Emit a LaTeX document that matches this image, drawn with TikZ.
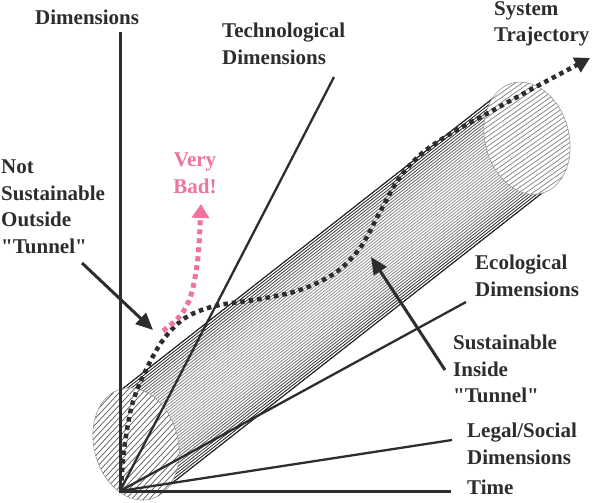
\documentclass[tikz,border=0pt]{standalone}
\usepackage{fontspec}
\setmainfont{Liberation Serif}
\usetikzlibrary{arrows.meta}
\definecolor{ink}{RGB}{45,45,45}
\definecolor{badpink}{RGB}{238,116,158}
\newcommand\qd{\textquotedbl}
\begin{document}
\begin{tikzpicture}[x=1pt,y=-1pt,
  lbl/.style={font=\fontsize{21}{26.5}\selectfont\bfseries, text=ink, inner sep=0pt, align=left},
  axisline/.style={ink, line width=3pt},
  dimline/.style={ink, line width=2.3pt},
  traj/.style={ink, line width=4.5pt, dash pattern=on 4.5pt off 4pt, -{Triangle[length=15pt,width=16pt]}},
  pinktraj/.style={badpink, line width=5pt, dash pattern=on 5pt off 4pt, -{Triangle[length=14pt,width=17pt]}},
  lblarrow/.style={ink, line width=3pt, -{Triangle[length=17pt,width=15pt]}},
  bodyline/.style={line width=0.8pt},
  caprim/.style={black!45, line width=0.5pt}]
\useasboundingbox (0,0) rectangle (594,503);

% ---- tube body ----
\begin{scope}[shift={(137,444)}, rotate=38.1]
  \begin{scope}
    \clip (10,-52.5) -- (505.7,-52.5) -- (485.7,52.5) -- (-10,52.5) -- cycle;
    \foreach \i in {0,...,44}{
      \pgfmathsetmacro\v{-52.3+\i*104.6/44}
      \pgfmathsetmacro\g{42+56*(abs(\v)/52.5)^3}
      \draw[bodyline, black!\g] (-30,\v) -- (530,\v);
    }
  \end{scope}
  \draw[black!85, line width=1pt] (10,-52.5) -- (505.7,-52.5);
  \draw[black!85, line width=1pt] (-10,52.5) -- (485.7,52.5);
\end{scope}

% ---- front cap ----
\begin{scope}[shift={(136,444)}]
  \fill[white, rotate=15] (0,0) ellipse [x radius=42, y radius=57];
  \begin{scope}
    \clip[rotate=15] (0,0) ellipse [x radius=42, y radius=57];
    \foreach \k in {-17,...,17}
      \draw[black!65, line width=0.7pt, rotate=47] (-80,\k*4.3) -- (80,\k*4.3);
  \end{scope}
  \draw[caprim, rotate=15] (0,0) ellipse [x radius=42, y radius=57];
\end{scope}

% ---- far cap ----
\begin{scope}[shift={(527,138.2)}]
  \fill[white, rotate=15] (0,0) ellipse [x radius=42, y radius=57];
  \begin{scope}
    \clip[rotate=15] (0,0) ellipse [x radius=42, y radius=57];
    \foreach \k in {-19,...,19}
      \draw[black!50, line width=0.7pt, rotate=35] (-80,\k*4) -- (80,\k*4);
  \end{scope}
  \draw[caprim, rotate=15] (0,0) ellipse [x radius=42, y radius=57];
\end{scope}

% ---- axes ----
\coordinate (O) at (120,491);
\coordinate (vtop) at (120,32);
\coordinate (timeend) at (451,491);
\coordinate (legalend) at (452,440);
\coordinate (ecoend) at (466,302);
\coordinate (techend) at (334,77);
\draw[axisline] (vtop) -- (O) -- (timeend);
\draw[dimline] (O) -- (legalend);
\draw[dimline] (O) -- (ecoend);
\draw[dimline] (O) -- (techend);

% ---- trajectories ----
\draw[traj] plot[smooth, tension=0.55] coordinates {(121,489) (124,450) (132,405) (145,372) (163,340) (185,318) (215,306) (260,299) (300,290) (335,273) (360,248) (380,212) (398,180) (420,155) (450,134) (490,112) (530,90) (590,58)};
\draw[pinktraj] plot[smooth, tension=0.6] coordinates {(163,331) (180,316) (190,298) (196,272) (199,245) (201,204)};

% ---- labels ----
\node[lbl, anchor=north west] (dimlbl) at (35,10) {Dimensions};
\node[lbl, anchor=north west] (techlbl) at (222,23) {Technological\\Dimensions};
\node[lbl, anchor=north west] (syslbl) at (494,1) {System\\Trajectory};
\node[lbl, anchor=north west] (notlbl) at (1,160) {Not\\Sustainable\\Outside\\\qd Tunnel\qd};
\node[lbl, anchor=north, align=center, text=badpink] (badlbl) at (195,153) {Very\\Bad!};
\node[lbl, anchor=north west] (ecolbl) at (475,255) {Ecological\\Dimensions};
\node[lbl, anchor=north west] (inlbl) at (453,335) {Sustainable\\Inside\\\qd Tunnel\qd};
\node[lbl, anchor=north west] (legallbl) at (467,423) {Legal/Social\\Dimensions};
\node[lbl, anchor=north west] (timelbl) at (467,480) {Time};

% ---- label arrows ----
\coordinate (notTail) at (82,263);
\coordinate (notTip) at (153,330);
\coordinate (inTail) at (445,370);
\coordinate (inTip) at (371,257);
\draw[lblarrow] (notTail) -- (notTip);
\draw[lblarrow] (inTail) -- (inTip);
\end{tikzpicture}
\end{document}
